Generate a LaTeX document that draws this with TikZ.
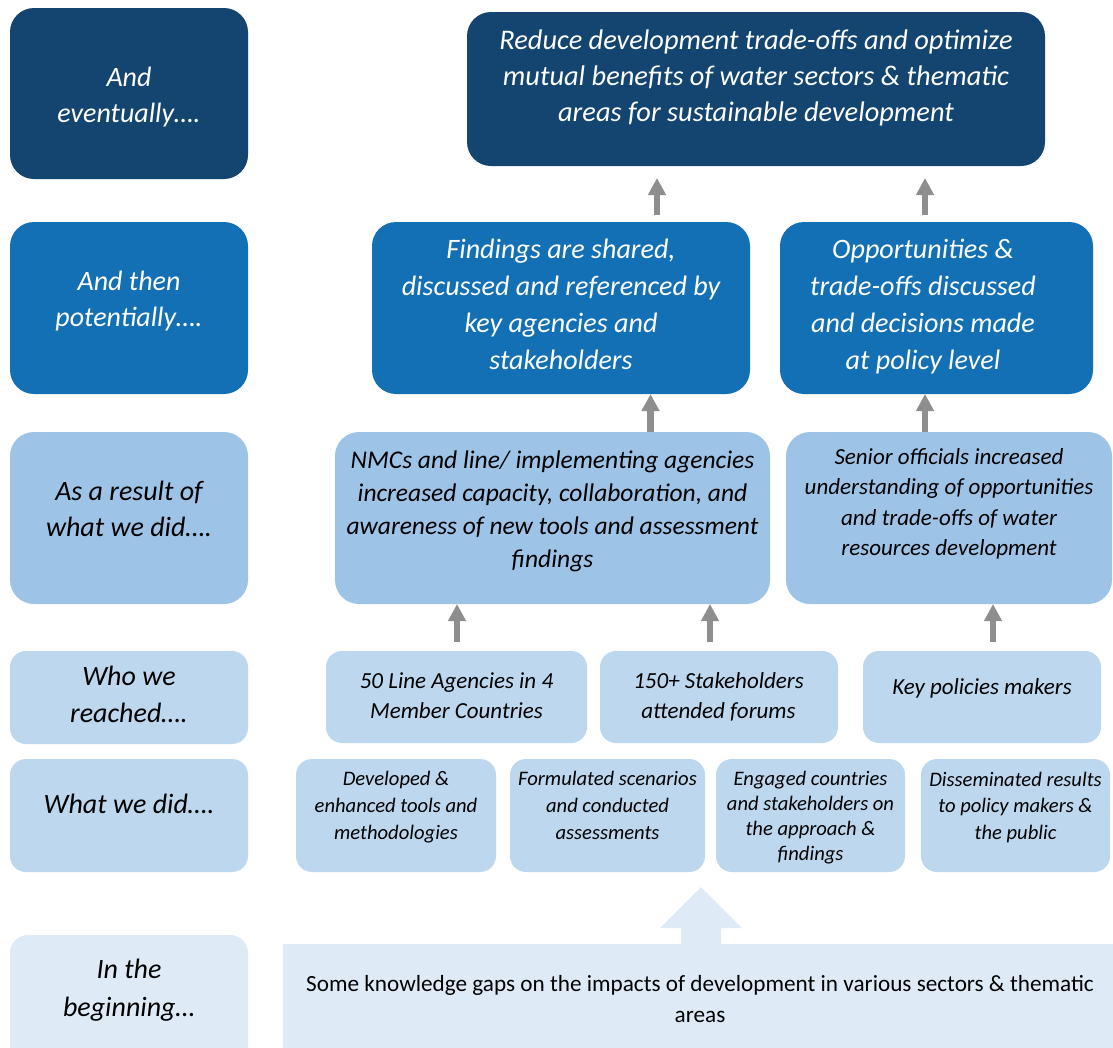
\documentclass[tikz,border=0pt]{standalone}
\usepackage{fontspec}
\setmainfont{Carlito}
\usetikzlibrary{arrows.meta}
\definecolor{cnavy}{HTML}{134570}
\definecolor{cmid}{HTML}{1370B4}
\definecolor{cthree}{HTML}{9DC3E6}
\definecolor{cfour}{HTML}{BDD7EE}
\definecolor{csix}{HTML}{DEEBF7}
\definecolor{cgray}{HTML}{8E8E8E}
\newcommand\fsz[2]{\fontsize{#1pt}{#2pt}\selectfont}
\newcommand\mkbox[6]{\node[#6, minimum width={(#4)-(#2)}, minimum height={(#5)-(#3)}] (#1) at ({((#2)+(#4))/2},{((#3)+(#5))/2}) {};}
\tikzset{
  bx/.style={rectangle, inner sep=0pt, outer sep=0pt, draw=none},
  navybox/.style={bx, fill=cnavy, rounded corners=24pt},
  midbox/.style={bx, fill=cmid, rounded corners=24pt},
  threebox/.style={bx, fill=cthree, rounded corners=24pt},
  fourbox/.style={bx, fill=cfour, rounded corners=16pt},
  sixbox/.style={bx, fill=csix, rounded corners=18pt},
  flatbox/.style={bx, fill=csix},
  lbl/.style={inner sep=0pt, outer sep=0pt, align=center,
    execute at begin node=\strut, execute at end node=\strut},
  wlbl/.style={lbl, text=white},
  klbl/.style={lbl, text=black},
  garrow/.style={draw=cgray, line width=6.5pt, -{Triangle[width=17pt,length=17pt]}},
}
\begin{document}
\begin{tikzpicture}[x=1pt,y=-1pt]
\clip (0,0) rectangle (1113,1047);
\fill[white] (0,0) rectangle (1113,1047);
% left column
\mkbox{l1}{10}{8}{248}{179}{navybox}
\mkbox{l2}{10}{222}{248}{394}{midbox}
\mkbox{l3}{10}{432}{248}{604}{threebox}
\mkbox{l4}{10}{651}{248}{744}{fourbox}
\mkbox{l5}{10}{759}{248}{872}{fourbox}
\mkbox{l6}{10}{935}{248}{1080}{sixbox}
% right
\mkbox{top}{467}{12}{1045}{166}{navybox}
\mkbox{r2a}{372}{222}{750}{394}{midbox}
\mkbox{r2b}{780}{222}{1093}{394}{midbox}
\mkbox{r3a}{335}{432}{770}{604}{threebox}
\mkbox{r3b}{786}{432}{1112}{604}{threebox}
\mkbox{r4a}{326}{651}{587}{743}{fourbox}
\mkbox{r4b}{600}{651}{838}{743}{fourbox}
\mkbox{r4c}{863}{651}{1101}{743}{fourbox}
\mkbox{r5a}{296}{759}{496}{872}{fourbox}
\mkbox{r5b}{510}{759}{705}{872}{fourbox}
\mkbox{r5c}{716}{759}{905}{872}{fourbox}
\mkbox{r5d}{921}{759}{1110}{872}{fourbox}
\mkbox{bot}{283}{944}{1113}{1080}{flatbox}
% block arrow from the beginning box
\fill[csix] (681,945) -- (681,928) -- (660,928) -- (701,887) -- (742,928) -- (721,928) -- (721,945) -- cycle;
% left labels
\node[wlbl, font=\fsz{28}{36}\itshape] (tl1) at (129,99.8) {And\\eventually….};
\node[wlbl, font=\fsz{28}{36}\itshape] (tl2) at (129,303.8) {And then\\potentially….};
\node[klbl, font=\fsz{28}{36}\itshape] (tl3) at (129,513.8) {As a result of\\what we did….};
\node[klbl, font=\fsz{28}{37}\itshape] (tl4) at (129,699.6) {Who we\\reached….};
\node[klbl, font=\fsz{28}{37}\itshape] (tl5) at (129,805.6) {What we did….};
\node[klbl, font=\fsz{28}{38}\itshape] (tl6) at (129,993.4) {In the\\beginning…};
% right labels
\node[wlbl, font=\fsz{28.4}{36}\itshape] (ttop) at (756,81.3) {Reduce development trade-offs and optimize\\mutual benefits of water sectors \& thematic\\areas for sustainable development};
\node[wlbl, font=\fsz{28.1}{37}\itshape] (tr2a) at (561,310.1) {Findings are shared,\\discussed and referenced by\\key agencies and\\stakeholders};
\node[wlbl, font=\fsz{28.1}{37}\itshape] (tr2b) at (923,310.1) {Opportunities \&\\trade-offs discussed\\and decisions made\\at policy level};
\node[klbl, font=\fsz{25.5}{33}\itshape] (tr3a) at (552.5,514.4) {NMCs and line/ implementing agencies\\increased capacity, collaboration, and\\awareness of new tools and assessment\\findings};
\node[klbl, font=\fsz{23}{30.5}\itshape] (tr3b) at (949,506.6) {Senior officials increased\\understanding of opportunities\\and trade-offs of water\\resources development};
\node[klbl, font=\fsz{23}{30}\itshape] (tr4a) at (456.5,700) {50 Line Agencies in 4\\Member Countries};
\node[klbl, font=\fsz{23}{30}\itshape] (tr4b) at (718.5,700) {150+ Stakeholders\\attended forums};
\node[klbl, font=\fsz{23}{30}\itshape] (tr4c) at (982,688) {Key policies makers};
\node[klbl, font=\fsz{20.6}{27}\itshape] (tr5a) at (396,809.4) {Developed \&\\enhanced tools and\\methodologies};
\node[klbl, font=\fsz{20.6}{27}\itshape] (tr5b) at (607.5,809.4) {Formulated scenarios\\and conducted\\assessments};
\node[klbl, font=\fsz{20.6}{24.9}\itshape] (tr5c) at (810.5,819.8) {Engaged countries\\and stakeholders on\\the approach \&\\findings};
\node[klbl, font=\fsz{20.6}{26.5}\itshape] (tr5d) at (1015.5,809.4) {Disseminated results\\to policy makers \&\\the public};
\node[klbl, font=\fsz{23.2}{31}] (tbot) at (700,1003.8) {Some knowledge gaps on the impacts of development in various sectors \& thematic\\areas};
% arrows
\coordinate (xa) at (657,0);
\coordinate (xb) at (925,0);
\coordinate (xc) at (650.5,0);
\coordinate (xd) at (457,0);
\coordinate (xe) at (710,0);
\coordinate (xf) at (993,0);
\draw[garrow, shorten <=7pt, shorten >=12pt] (r2a.north -| xa) -- (top.south -| xa);
\draw[garrow, shorten <=7pt, shorten >=12pt] (r2b.north -| xb) -- (top.south -| xb);
\draw[garrow] (r3a.north -| xc) -- (r2a.south -| xc);
\draw[garrow] (r3b.north -| xb) -- (r2b.south -| xb);
\draw[garrow, shorten <=9pt] (r4a.north -| xd) -- (r3a.south -| xd);
\draw[garrow, shorten <=9pt] (r4b.north -| xe) -- (r3a.south -| xe);
\draw[garrow, shorten <=9pt] (r4c.north -| xf) -- (r3b.south -| xf);
\end{tikzpicture}
\end{document}
